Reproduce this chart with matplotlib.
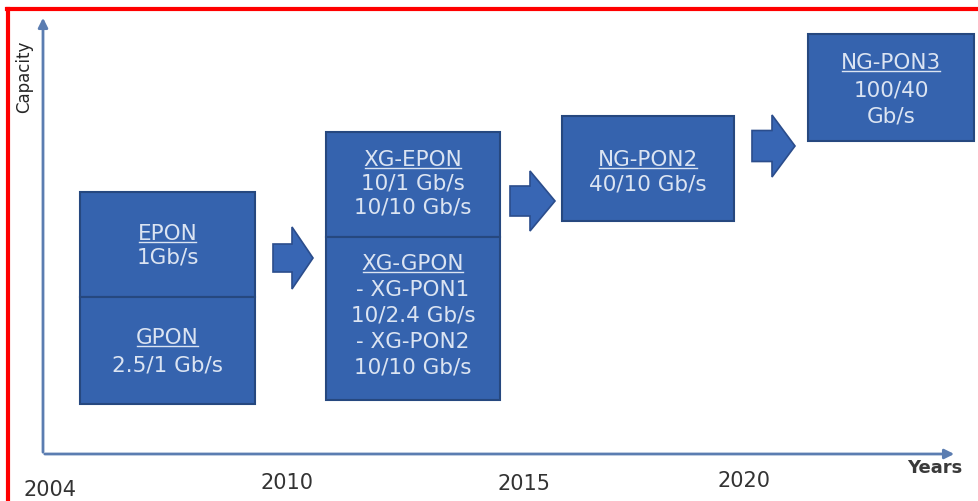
import matplotlib.pyplot as plt
from matplotlib.patches import Rectangle, FancyArrow
from matplotlib.lines import Line2D

# --- chart content ---
axis_y_label = "Capacity"
axis_x_label = "Years"
years = ["2004", "2010", "2015", "2020"]

# each cell: title (underlined) and the rate lines below it
cell_titles = ["EPON", "GPON", "XG-EPON", "XG-GPON", "NG-PON2", "NG-PON3"]
cell_lines = [
    ["1Gb/s"],
    ["2.5/1 Gb/s"],
    ["10/1 Gb/s", "10/10 Gb/s"],
    ["- XG-PON1", "10/2.4 Gb/s", "- XG-PON2", "10/10 Gb/s"],
    ["40/10 Gb/s"],
    ["100/40", "Gb/s"],
]

# --- layout (pixel space of the 979x502 picture) ---
cell_rects = [  # x0, y0, x1, y1
    (80, 193, 255, 298),
    (80, 298, 255, 405),
    (326, 133, 500, 238),
    (326, 238, 500, 401),
    (562, 117, 734, 222),
    (808, 35, 974, 142),
]
cell_first_y = [234, 338, 160, 264, 160, 63]
line_pitch = [24, 28, 24, 26, 25, 27]
year_pos = [(50, 490), (287, 483), (524, 484), (744, 481)]
arrows = [  # x start, y centre, length, body width, head width, head length
    (273, 259, 40, 28, 62, 21),
    (510, 202, 45, 30, 60, 25),
    (752, 147, 43, 31, 62, 23),
]

box_fill = "#3563ae"
box_edge = "#26487f"
text_col = "#dbe4f2"
axis_col = "#5b7db1"

fig = plt.figure(figsize=(9.79, 5.02), dpi=100)
ax = fig.add_axes([0, 0, 1, 1])
ax.set_xlim(0, 979)
ax.set_ylim(502, 0)
ax.axis("off")

# red frame (top and left edges visible)
ax.add_line(Line2D([7, 979], [10, 10], color="#ff0000", lw=3))
ax.add_line(Line2D([8, 8], [10, 502], color="#ff0000", lw=3))

# axes arrows
ax.annotate("", xy=(43, 16), xytext=(43, 456),
            arrowprops=dict(arrowstyle="-|>", color=axis_col, lw=2, mutation_scale=14))
ax.annotate("", xy=(957, 455), xytext=(42, 455),
            arrowprops=dict(arrowstyle="-|>", color=axis_col, lw=2, mutation_scale=14))

ax.text(24, 77, axis_y_label, rotation=90, ha="center", va="center",
        fontsize=12, color="#262626", family=["Liberation Sans Narrow", "DejaVu Sans"])
ax.text(935, 468, axis_x_label, ha="center", va="center", fontsize=13,
        fontweight="bold", color="#3a3a3a", family=["DejaVu Sans"])

for lab, (xx, yy) in zip(years, year_pos):
    ax.text(xx, yy, lab, ha="center", va="center", fontsize=15, color="#333333",
            family=["Liberation Sans Narrow", "DejaVu Sans"])

# boxes
titles = []
for (x0, y0, x1, y1) in cell_rects:
    ax.add_patch(Rectangle((x0, y0), x1 - x0, y1 - y0, facecolor=box_fill,
                           edgecolor=box_edge, lw=1.5))

for i, title in enumerate(cell_titles):
    x0, y0, x1, y1 = cell_rects[i]
    cx = (x0 + x1) / 2
    y = cell_first_y[i]
    t = ax.text(cx, y, title, ha="center", va="center", fontsize=15.5, color=text_col)
    titles.append(t)
    for k, line in enumerate(cell_lines[i]):
        ax.text(cx, y + (k + 1) * line_pitch[i], line, ha="center", va="center",
                fontsize=15.5, color=text_col)

# underline the titles
fig.canvas.draw()
inv = ax.transData.inverted()
for t in titles:
    bb = t.get_window_extent()
    (ax0, ay0), (ax1, ay1) = inv.transform([(bb.x0, bb.y0), (bb.x1, bb.y1)])
    ax.add_line(Line2D([ax0 + 1, ax1 - 1], [ay0 - 1, ay0 - 1], color=text_col, lw=1))

for (xs, yc, ln, bw, hw, hl) in arrows:
    ax.add_patch(FancyArrow(xs, yc, ln, 0, width=bw, head_width=hw, head_length=hl,
                            length_includes_head=True, facecolor="#3866b4",
                            edgecolor="#2b4d8c", lw=1.2))

fig.savefig("out.png", dpi=100)
